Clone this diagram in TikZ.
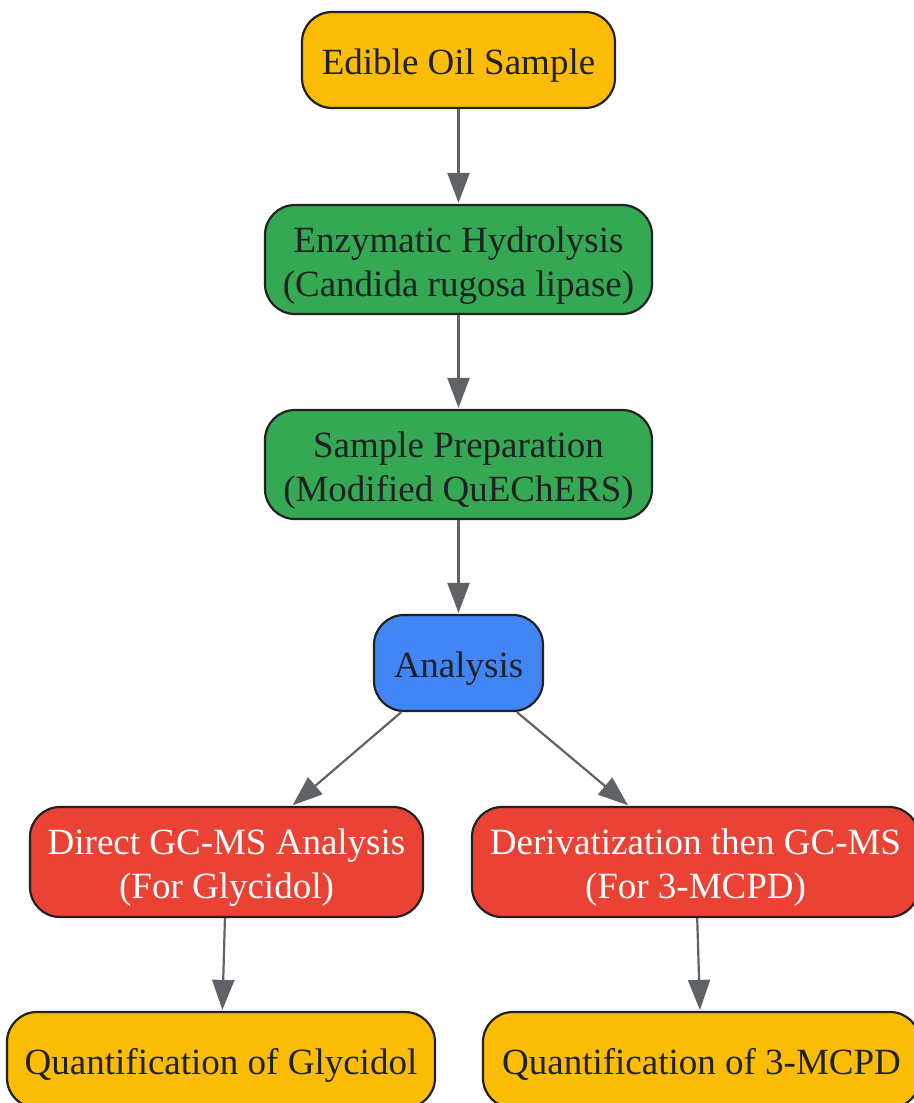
\documentclass[tikz,border=0pt]{standalone}
\usepackage{fontspec}
\setmainfont{Liberation Serif}
\usetikzlibrary{arrows.meta}
\definecolor{gyellow}{HTML}{FBBC05}
\definecolor{ggreen}{HTML}{34A853}
\definecolor{gblue}{HTML}{4285F4}
\definecolor{gred}{HTML}{EA4335}
\definecolor{edgecol}{HTML}{222222}
\definecolor{txtcol}{HTML}{202124}
\definecolor{arrcol}{HTML}{5F6368}
\newcommand{\boxtext}[1]{\raisebox{-6pt}[\height][\depth]{\begin{tabular}{@{}c@{}}#1\end{tabular}}}
\tikzset{
  box/.style={draw=edgecol, line width=2.2pt, rounded corners=30pt, inner sep=0pt,
    font=\fontsize{37}{44}\selectfont, text=txtcol},
  ybox/.style={box, fill=gyellow},
  gbox/.style={box, fill=ggreen},
  bbox/.style={box, fill=gblue},
  rbox/.style={box, fill=gred, text=white},
  conn/.style={draw=arrcol, line width=2.2pt, -{Triangle[length=30pt,width=22pt]}, shorten >=1pt},
}
\begin{document}
\begin{tikzpicture}[x=1pt,y=-1pt]
\useasboundingbox (0,0) rectangle (913,1103);
\node[ybox, minimum width=313pt, minimum height=96pt] (a) at (458.5,60) {\boxtext{Edible Oil Sample}};
\node[gbox, minimum width=387pt, minimum height=109pt] (b) at (458.5,259.5) {\boxtext{Enzymatic Hydrolysis\\(Candida rugosa lipase)}};
\node[gbox, minimum width=387pt, minimum height=109pt] (c) at (458.5,464.5) {\boxtext{Sample Preparation\\(Modified QuEChERS)}};
\node[bbox, minimum width=169pt, minimum height=96pt] (d) at (458.5,663) {\boxtext{Analysis}};
\node[rbox, minimum width=393pt, minimum height=110pt] (e) at (226.5,862) {\boxtext{Direct GC-MS Analysis\\(For Glycidol)}};
\node[rbox, minimum width=447pt, minimum height=110pt] (f) at (695.5,862) {\boxtext{Derivatization then GC-MS\\(For 3-MCPD)}};
\node[ybox, minimum width=428pt, minimum height=96pt] (g) at (221,1060) {\boxtext{Quantification of Glycidol}};
\node[ybox, minimum width=437pt, minimum height=96pt] (h) at (701.5,1060) {\boxtext{Quantification of 3-MCPD}};
\draw[conn] (a) -- (b);
\draw[conn] (b) -- (c);
\draw[conn] (c) -- (d);
\draw[conn] (d) -- (e);
\draw[conn] (d) -- (f);
\draw[conn] (e) -- (g);
\draw[conn] (f) -- (h);
\end{tikzpicture}
\end{document}
